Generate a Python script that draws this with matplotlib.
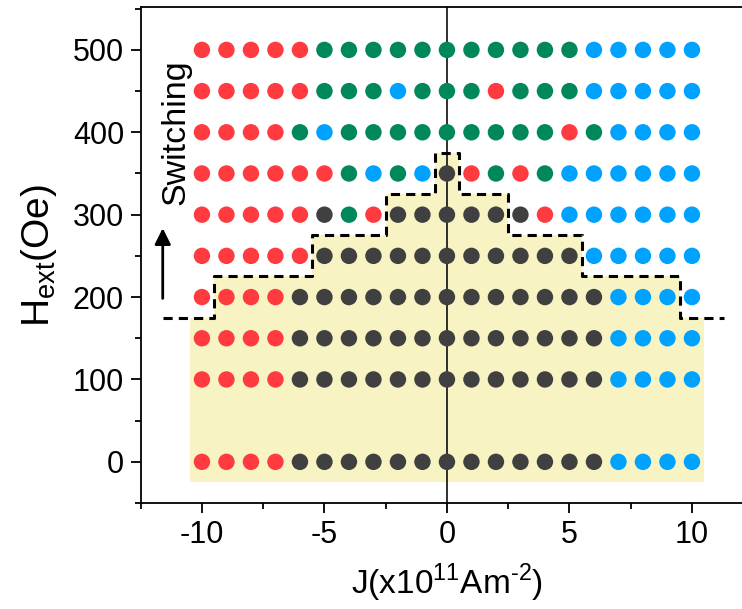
import numpy as np
import matplotlib.pyplot as plt
from matplotlib.ticker import MultipleLocator

plt.rcParams['font.family'] = ['Liberation Sans', 'DejaVu Sans']
plt.rcParams['mathtext.fontset'] = 'custom'
plt.rcParams['mathtext.rm'] = 'Liberation Sans'
plt.rcParams['axes.unicode_minus'] = False

# current density (x10^11 A/m^2) and field (Oe) of the measured grid
J = [-10, -9, -8, -7, -6, -5, -4, -3, -2, -1, 0, 1, 2, 3, 4, 5, 6, 7, 8, 9, 10]
H = [0, 100, 150, 200, 250, 300, 350, 400, 450, 500]

# state of each point, one string per field row, left to right in J
# R = red, G = green, B = blue, K = no switching
estados = {
    0:   "RRRRKKKKKKKKKKKKKBBBB",
    100: "RRRRKKKKKKKKKKKKKBBBB",
    150: "RRRRKKKKKKKKKKKKKBBBB",
    200: "RRRRKKKKKKKKKKKKKBBBB",
    250: "RRRRRKKKKKKKKKKKBBBBB",
    300: "RRRRRKGRKKKKKKRBBBBBB",
    350: "RRRRRRGBGBKRGRGBBBBBB",
    400: "RRRRGBGGGGGGGGGRGBBBB",
    450: "RRRRRGGGBGGGRGGGBBBBB",
    500: "RRRRRGGGGGGGGGGGBBBBB",
}
colores = {'R': '#FF3B3F', 'G': '#00875A', 'B': '#00A2FF', 'K': '#404040'}

# threshold line (dashed staircase) and shaded region below it
borde_x = [-11.6, -9.5, -9.5, -5.5, -5.5, -2.5, -2.5, -0.5, -0.5,
           0.5, 0.5, 2.5, 2.5, 5.5, 5.5, 9.5, 9.5, 11.3]
borde_y = [175, 175, 225, 225, 275, 275, 325, 325, 375,
           375, 325, 325, 275, 275, 225, 225, 175, 175]
sombra_x = [-10.5, -10.5, -9.5, -9.5, -5.5, -5.5, -2.5, -2.5, -0.5, -0.5,
            0.5, 0.5, 2.5, 2.5, 5.5, 5.5, 9.5, 9.5, 10.5, 10.5]
sombra_y = [-25, 175, 175, 225, 225, 275, 275, 325, 325, 375,
            375, 325, 325, 275, 275, 225, 225, 175, 175, -25]

fig = plt.figure(figsize=(7.42, 6.09), dpi=100)
ax = fig.add_axes([0.1896, 0.174, 0.8255, 0.8144])

ax.fill(sombra_x, sombra_y, color='#F7F3C2', lw=0, zorder=0)
ax.axvline(0, color='#202020', lw=1.3, zorder=1)
ax.plot(borde_x, borde_y, color='black', lw=2.2, ls=(0, (3, 2)), zorder=2)

for h in H:
    c = [colores[s] for s in estados[h]]
    ax.scatter(J, [h] * len(J), s=140, c=c, edgecolors='none', zorder=3)

ax.annotate('', xy=(-11.6, 287), xytext=(-11.6, 195),
            arrowprops=dict(arrowstyle='-|>', color='black', lw=2,
                            mutation_scale=24))
ax.text(-11.05, 400, 'Switching', rotation=90, ha='center', va='center',
        fontsize=24.5)

ax.set_xlim(-12.5, 12.5)
ax.set_ylim(-50, 552)
ax.xaxis.set_major_locator(MultipleLocator(5))
ax.xaxis.set_minor_locator(MultipleLocator(2.5))
ax.yaxis.set_major_locator(MultipleLocator(100))
ax.yaxis.set_minor_locator(MultipleLocator(50))
ax.tick_params(which='both', direction='out', width=1.3, labelsize=22,
               top=False, right=False)
ax.tick_params(which='major', length=7, pad=5)
ax.tick_params(which='minor', length=4)
for sp in ax.spines.values():
    sp.set_linewidth(1.3)

ax.set_xlabel('J(x10$^\\mathregular{11}$Am$^\\mathregular{\u20102}$)', fontsize=24, labelpad=9)
ax.set_ylabel(r'H$_\mathregular{ext}$(Oe)', fontsize=28, labelpad=10)

fig.savefig('out.png', dpi=100)
